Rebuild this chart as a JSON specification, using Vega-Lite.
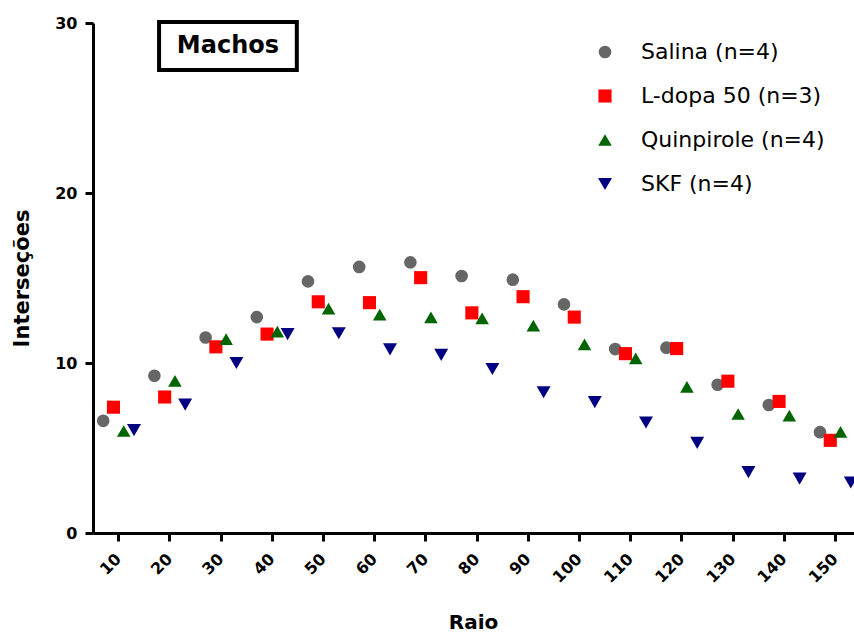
{
  "$schema": "https://vega.github.io/schema/vega-lite/v6.json",
  "autosize": "none",
  "width": 761,
  "height": 510,
  "padding": {"left": 93, "top": 23, "right": 0, "bottom": 104},
  "background": "white",
  "config": {
    "view": {"stroke": null},
    "font": "DejaVu Sans"
  },
  "resolve": {"scale": {"x": "independent"}, "axis": {"x": "independent"}},
  "datasets": {
    "medidas": [
      {"raio": 10, "grupo": "Salina (n=4)", "intersecoes": 6.6},
      {"raio": 10, "grupo": "L-dopa 50 (n=3)", "intersecoes": 7.4},
      {"raio": 10, "grupo": "Quinpirole (n=4)", "intersecoes": 6.0},
      {"raio": 10, "grupo": "SKF (n=4)", "intersecoes": 6.05},
      {"raio": 20, "grupo": "Salina (n=4)", "intersecoes": 9.25},
      {"raio": 20, "grupo": "L-dopa 50 (n=3)", "intersecoes": 8.0},
      {"raio": 20, "grupo": "Quinpirole (n=4)", "intersecoes": 8.95},
      {"raio": 20, "grupo": "SKF (n=4)", "intersecoes": 7.55},
      {"raio": 30, "grupo": "Salina (n=4)", "intersecoes": 11.5},
      {"raio": 30, "grupo": "L-dopa 50 (n=3)", "intersecoes": 10.95},
      {"raio": 30, "grupo": "Quinpirole (n=4)", "intersecoes": 11.4},
      {"raio": 30, "grupo": "SKF (n=4)", "intersecoes": 10.0},
      {"raio": 40, "grupo": "Salina (n=4)", "intersecoes": 12.7},
      {"raio": 40, "grupo": "L-dopa 50 (n=3)", "intersecoes": 11.7},
      {"raio": 40, "grupo": "Quinpirole (n=4)", "intersecoes": 11.85},
      {"raio": 40, "grupo": "SKF (n=4)", "intersecoes": 11.7},
      {"raio": 50, "grupo": "Salina (n=4)", "intersecoes": 14.8},
      {"raio": 50, "grupo": "L-dopa 50 (n=3)", "intersecoes": 13.6},
      {"raio": 50, "grupo": "Quinpirole (n=4)", "intersecoes": 13.2},
      {"raio": 50, "grupo": "SKF (n=4)", "intersecoes": 11.75},
      {"raio": 60, "grupo": "Salina (n=4)", "intersecoes": 15.65},
      {"raio": 60, "grupo": "L-dopa 50 (n=3)", "intersecoes": 13.55},
      {"raio": 60, "grupo": "Quinpirole (n=4)", "intersecoes": 12.85},
      {"raio": 60, "grupo": "SKF (n=4)", "intersecoes": 10.8},
      {"raio": 70, "grupo": "Salina (n=4)", "intersecoes": 15.92},
      {"raio": 70, "grupo": "L-dopa 50 (n=3)", "intersecoes": 15.02},
      {"raio": 70, "grupo": "Quinpirole (n=4)", "intersecoes": 12.68},
      {"raio": 70, "grupo": "SKF (n=4)", "intersecoes": 10.48},
      {"raio": 80, "grupo": "Salina (n=4)", "intersecoes": 15.12},
      {"raio": 80, "grupo": "L-dopa 50 (n=3)", "intersecoes": 12.95},
      {"raio": 80, "grupo": "Quinpirole (n=4)", "intersecoes": 12.62},
      {"raio": 80, "grupo": "SKF (n=4)", "intersecoes": 9.65},
      {"raio": 90, "grupo": "Salina (n=4)", "intersecoes": 14.9},
      {"raio": 90, "grupo": "L-dopa 50 (n=3)", "intersecoes": 13.9},
      {"raio": 90, "grupo": "Quinpirole (n=4)", "intersecoes": 12.2},
      {"raio": 90, "grupo": "SKF (n=4)", "intersecoes": 8.28},
      {"raio": 100, "grupo": "Salina (n=4)", "intersecoes": 13.45},
      {"raio": 100, "grupo": "L-dopa 50 (n=3)", "intersecoes": 12.7},
      {"raio": 100, "grupo": "Quinpirole (n=4)", "intersecoes": 11.1},
      {"raio": 100, "grupo": "SKF (n=4)", "intersecoes": 7.7},
      {"raio": 110, "grupo": "Salina (n=4)", "intersecoes": 10.82},
      {"raio": 110, "grupo": "L-dopa 50 (n=3)", "intersecoes": 10.55},
      {"raio": 110, "grupo": "Quinpirole (n=4)", "intersecoes": 10.27},
      {"raio": 110, "grupo": "SKF (n=4)", "intersecoes": 6.5},
      {"raio": 120, "grupo": "Salina (n=4)", "intersecoes": 10.9},
      {"raio": 120, "grupo": "L-dopa 50 (n=3)", "intersecoes": 10.85},
      {"raio": 120, "grupo": "Quinpirole (n=4)", "intersecoes": 8.6},
      {"raio": 120, "grupo": "SKF (n=4)", "intersecoes": 5.3},
      {"raio": 130, "grupo": "Salina (n=4)", "intersecoes": 8.72},
      {"raio": 130, "grupo": "L-dopa 50 (n=3)", "intersecoes": 8.93},
      {"raio": 130, "grupo": "Quinpirole (n=4)", "intersecoes": 7.0},
      {"raio": 130, "grupo": "SKF (n=4)", "intersecoes": 3.58},
      {"raio": 140, "grupo": "Salina (n=4)", "intersecoes": 7.53},
      {"raio": 140, "grupo": "L-dopa 50 (n=3)", "intersecoes": 7.74},
      {"raio": 140, "grupo": "Quinpirole (n=4)", "intersecoes": 6.9},
      {"raio": 140, "grupo": "SKF (n=4)", "intersecoes": 3.2},
      {"raio": 150, "grupo": "Salina (n=4)", "intersecoes": 5.93},
      {"raio": 150, "grupo": "L-dopa 50 (n=3)", "intersecoes": 5.45},
      {"raio": 150, "grupo": "Quinpirole (n=4)", "intersecoes": 5.95},
      {"raio": 150, "grupo": "SKF (n=4)", "intersecoes": 2.97}
    ]
  },
  "layer": [
    {
      "data": {"name": "medidas"},
      "mark": {"type": "point", "filled": true, "opacity": 1, "strokeWidth": 0},
      "encoding": {
        "x": {
          "field": "raio",
          "type": "ordinal",
          "scale": {"type": "band", "paddingInner": 0, "paddingOuter": 0, "range": [0, 768]},
          "axis": {
            "title": "Raio",
            "grid": false,
            "domainColor": "black",
            "domainWidth": 3,
            "tickColor": "black",
            "tickWidth": 3,
            "tickSize": 8,
            "labelAngle": -45,
            "labelAlign": "right",
            "labelBaseline": "middle",
            "labelPadding": 15,
            "labelFont": "DejaVu Sans",
            "labelFontWeight": "bold",
            "labelFontSize": 16,
            "labelColor": "black",
            "labelOverlap": false,
            "titleFont": "DejaVu Sans",
            "titleFontWeight": "bold",
            "titleFontSize": 20,
            "titleColor": "black",
            "titleX": 380,
            "titlePadding": 27
          }
        },
        "xOffset": {
          "field": "grupo",
          "type": "nominal",
          "scale": {
            "type": "point",
            "padding": 0,
            "domain": ["Salina (n=4)", "L-dopa 50 (n=3)", "Quinpirole (n=4)", "SKF (n=4)"],
            "range": [10.2, 41.0]
          }
        },
        "y": {
          "field": "intersecoes",
          "type": "quantitative",
          "scale": {"domain": [0, 30], "nice": false},
          "axis": {
            "title": "Interseções",
            "values": [0, 10, 20, 30],
            "grid": false,
            "domainColor": "black",
            "domainWidth": 3,
            "tickColor": "black",
            "tickWidth": 3,
            "tickSize": 8,
            "labelPadding": 8,
            "labelFont": "DejaVu Sans",
            "labelFontWeight": "bold",
            "labelFontSize": 16,
            "labelColor": "black",
            "titleFont": "DejaVu Sans",
            "titleFontWeight": "bold",
            "titleFontSize": 21,
            "titleColor": "black",
            "titlePadding": 22
          }
        },
        "color": {
          "field": "grupo",
          "type": "nominal",
          "scale": {
            "domain": ["Salina (n=4)", "L-dopa 50 (n=3)", "Quinpirole (n=4)", "SKF (n=4)"],
            "range": ["#666666", "#ff0000", "#006400", "#000080"]
          },
          "legend": {
            "title": null,
            "orient": "none",
            "legendX": 501,
            "legendY": 18,
            "padding": 0,
            "labelFont": "DejaVu Sans",
            "labelFontSize": 22,
            "labelColor": "black",
            "labelOffset": 25,
            "labelLimit": 400,
            "rowPadding": 22,
            "symbolSize": 200,
            "symbolStrokeWidth": 0
          }
        },
        "shape": {
          "field": "grupo",
          "type": "nominal",
          "scale": {
            "domain": ["Salina (n=4)", "L-dopa 50 (n=3)", "Quinpirole (n=4)", "SKF (n=4)"],
            "range": ["circle", "square", "triangle-up", "triangle-down"]
          }
        },
        "size": {
          "field": "grupo",
          "type": "nominal",
          "scale": {
            "domain": ["Salina (n=4)", "L-dopa 50 (n=3)", "Quinpirole (n=4)", "SKF (n=4)"],
            "range": [160, 195, 230, 230]
          },
          "legend": null
        }
      }
    },
    {
      "data": {"values": [{"titulo": "Machos"}]},
      "layer": [
        {
          "mark": {"type": "rect", "fill": "white", "stroke": "black", "strokeWidth": 4},
          "encoding": {
            "x": {"datum": 17.9, "type": "quantitative", "scale": {"domain": [5, 153.6], "nice": false, "zero": false}, "axis": null},
            "x2": {"datum": 44.8},
            "y": {"datum": 30.06, "type": "quantitative"},
            "y2": {"datum": 27.24}
          }
        },
        {
          "mark": {"type": "text", "font": "DejaVu Sans", "fontWeight": "bold", "fontSize": 24, "color": "black", "align": "center", "baseline": "middle"},
          "encoding": {
            "x": {"datum": 31.35, "type": "quantitative", "scale": {"domain": [5, 153.6], "nice": false, "zero": false}, "axis": null},
            "y": {"datum": 28.62, "type": "quantitative"},
            "text": {"field": "titulo"}
          }
        }
      ]
    }
  ]
}
